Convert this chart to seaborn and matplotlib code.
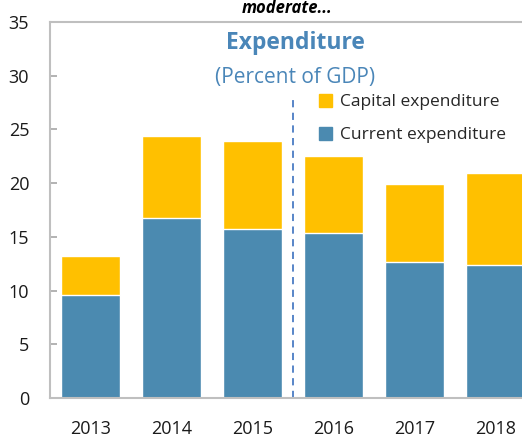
import matplotlib
matplotlib.use('Agg')
import matplotlib.pyplot as plt
import matplotlib.patches as mpatches
import seaborn as sns

years = ['2013', '2014', '2015', '2016', '2017', '2018']
current_exp = [9.6, 16.8, 15.7, 15.4, 12.7, 12.4]
capital_exp = [3.6, 7.6, 8.2, 7.1, 7.2, 8.5]
total_exp = [c + k for c, k in zip(current_exp, capital_exp)]

blue = '#4B8AB0'
yellow = '#FFC000'
title_blue = '#4A86B8'
grey = '#BFBFBF'

sns.set_style('white')
plt.rcParams['font.family'] = ['Open Sans', 'DejaVu Sans']

fig = plt.figure(figsize=(5.22, 4.38), dpi=100)
ax = fig.add_axes([50 / 522, 40 / 438, 486 / 522, 376 / 438])

sns.barplot(x=years, y=total_exp, color=yellow, width=0.73, saturation=1, ax=ax)
sns.barplot(x=years, y=current_exp, color=blue, width=0.73, saturation=1, ax=ax)

ax.set_xlim(-0.5, 5.5)
ax.set_ylim(0, 35)
ax.set_yticks(range(0, 36, 5))
ax.set_xticks([0.5, 1.5, 2.5, 3.5, 4.5], minor=True)
ax.tick_params(axis='x', which='major', length=0, pad=16, labelsize=13, colors='#1a1a1a')
ax.tick_params(axis='x', which='minor', direction='in', length=5, width=1.2, color='#A6A6A6')
ax.tick_params(axis='y', direction='in', length=5, width=1.2, color='#A6A6A6', pad=15,
               labelsize=13, labelcolor='#1a1a1a', left=True)
for side in ['left', 'bottom', 'top']:
    ax.spines[side].set_color(grey)
    ax.spines[side].set_linewidth(1.5)
ax.spines['right'].set_visible(False)

# projection divider
ax.vlines(2.5, 0, 28, colors='#4A7CC4', linestyles=(0, (4, 3)), linewidth=1.3)

fig.text(287 / 522, 1 - 13 / 438, 'moderate...', ha='center', va='baseline',
         fontsize=12, fontweight='bold', fontstyle='italic', color='black')
fig.text(295 / 522, 1 - 43 / 438, 'Expenditure', ha='center', va='center',
         fontsize=16.5, fontweight='bold', color=title_blue)
fig.text(295 / 522, 1 - 77 / 438, '(Percent of GDP)', ha='center', va='center',
         fontsize=15, color=title_blue)

handles = [mpatches.Patch(color=yellow, label='Capital expenditure'),
           mpatches.Patch(color=blue, label='Current expenditure')]
fig.legend(handles=handles, loc='upper left', bbox_to_anchor=(319 / 522, 1 - 94 / 438),
           frameon=False, fontsize=12.5, handlelength=0.75, handleheight=0.75,
           handletextpad=0.45, labelspacing=0.95, borderpad=0, borderaxespad=0)

fig.savefig('out.png', dpi=100)
